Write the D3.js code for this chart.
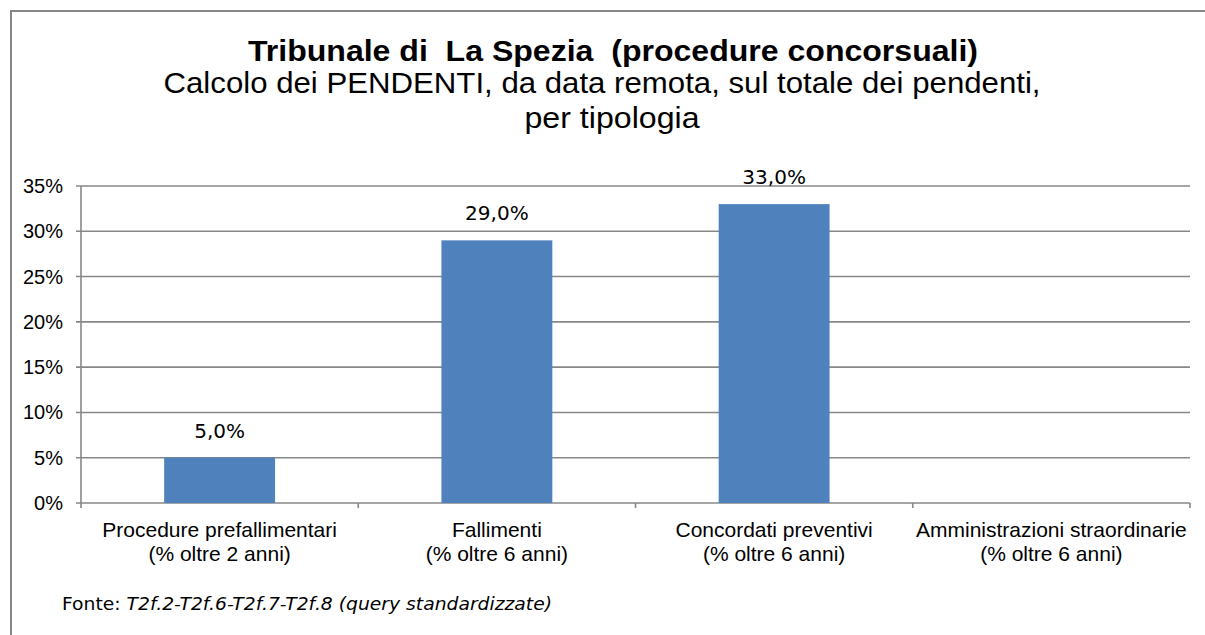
<!DOCTYPE html>
<html>
<head>
<meta charset="utf-8">
<script src="https://cdn.jsdelivr.net/npm/d3@7"></script>
<style>
  body { margin: 0; background: #fff; }
  svg { display: block; }
</style>
</head>
<body>
<svg id="canvas" width="1205" height="635"></svg>
<script>
let categories = ['Procedure prefallimentari', 'Fallimenti', 'Concordati preventivi', 'Amministrazioni straordinarie']
let subLabels = ['(% oltre 2 anni)', '(% oltre 6 anni)', '(% oltre 6 anni)', '(% oltre 6 anni)']
let values = [5.0, 29.0, 33.0, null]
let yTicks = [0, 5, 10, 15, 20, 25, 30, 35]

let titleLines = ['Tribunale di  La Spezia  (procedure concorsuali)']
let subtitleLines = ['Calcolo dei PENDENTI, da data remota, sul totale dei pendenti,', 'per tipologia']
let sourceLabel = 'Fonte: '
let sourceText = 'T2f.2-T2f.6-T2f.7-T2f.8 (query standardizzate)'

let canvas = d3.select('#canvas')
let grey = '#878787'
let sans = 'Liberation Sans, Arial, sans-serif'

// cornice
canvas.append('path')
    .attr('d', 'M11,640 L11,11 L1210,11')
    .attr('fill', 'none')
    .attr('stroke', grey)
    .attr('stroke-width', 2)

let x = d3.scaleBand().domain(categories).range([81, 1190]).padding(0)
let y = d3.scaleLinear().domain([0, 35]).range([503, 186])

// griglia + tacche
canvas.selectAll('line.grid')
    .data(yTicks)
    .enter()
    .append('line')
    .attr('class', 'grid')
    .attr('x1', 76)
    .attr('x2', 1190)
    .attr('y1', d => y(d))
    .attr('y2', d => y(d))
    .attr('stroke', grey)
    .attr('stroke-width', 1.6)

canvas.append('line')
    .attr('x1', 81).attr('x2', 81)
    .attr('y1', y(35)).attr('y2', y(0) + 5)
    .attr('stroke', grey)
    .attr('stroke-width', 1.6)

let bounds = categories.map(c => x(c)).concat([x.range()[1]])
canvas.selectAll('line.xtick')
    .data(bounds.slice(1))
    .enter()
    .append('line')
    .attr('x1', d => d).attr('x2', d => d)
    .attr('y1', y(0)).attr('y2', y(0) + 5)
    .attr('stroke', grey)
    .attr('stroke-width', 1.6)

canvas.selectAll('text.ytick')
    .data(yTicks)
    .enter()
    .append('text')
    .attr('x', 63)
    .attr('y', d => y(d) + 7)
    .attr('text-anchor', 'end')
    .attr('font-family', sans)
    .attr('font-size', 20)
    .attr('fill', '#000')
    .text(d => d + '%')

// barre
let bw = x.bandwidth() * 0.4
let barData = categories.map((c, i) => ({c: c, v: values[i]})).filter(d => d.v !== null)

canvas.selectAll('rect.bar')
    .data(barData)
    .enter()
    .append('rect')
    .attr('x', d => x(d.c) + (x.bandwidth() - bw) / 2)
    .attr('width', bw)
    .attr('y', d => y(d.v))
    .attr('height', d => y(0) - y(d.v))
    .attr('fill', '#4f81bd')

canvas.selectAll('text.val')
    .data(barData)
    .enter()
    .append('text')
    .attr('x', d => x(d.c) + x.bandwidth() / 2)
    .attr('y', d => y(d.v) - 20)
    .attr('text-anchor', 'middle')
    .attr('font-family', 'DejaVu Sans, Verdana, sans-serif')
    .attr('font-size', 20)
    .text(d => d.v.toFixed(1).replace('.', ',') + '%')

// etichette categorie
categories.forEach((c, i) => {
    let cx = x(c) + x.bandwidth() / 2
    canvas.append('text')
        .attr('x', cx).attr('y', 537)
        .attr('text-anchor', 'middle')
        .attr('font-family', sans)
        .attr('font-size', 21)
        .text(c)
    canvas.append('text')
        .attr('x', cx).attr('y', 561)
        .attr('text-anchor', 'middle')
        .attr('font-family', sans)
        .attr('font-size', 21)
        .text(subLabels[i])
})

// titolo
canvas.append('text')
    .attr('x', 613).attr('y', 61)
    .attr('text-anchor', 'middle')
    .attr('font-family', sans)
    .attr('font-weight', 'bold')
    .attr('font-size', 30)
    .attr('textLength', 730)
    .attr('lengthAdjust', 'spacingAndGlyphs')
    .style('white-space', 'pre')
    .text(titleLines[0])

let subLen = [877, 175]
subtitleLines.forEach((t, i) => {
    canvas.append('text')
        .attr('x', i === 0 ? 602 : 612).attr('y', 93 + i * 35)
        .attr('text-anchor', 'middle')
        .attr('font-family', sans)
        .attr('font-size', 29)
        .attr('textLength', subLen[i])
        .attr('lengthAdjust', 'spacingAndGlyphs')
        .text(t)
})

// fonte
let src = canvas.append('text')
    .attr('x', 62).attr('y', 610)
    .attr('font-family', 'DejaVu Sans, Verdana, sans-serif')
    .attr('font-size', 17)
    .attr('textLength', 490)
    .attr('lengthAdjust', 'spacingAndGlyphs')
src.append('tspan').text(sourceLabel)
src.append('tspan').attr('font-style', 'italic').text(sourceText)
</script>
</body>
</html>
